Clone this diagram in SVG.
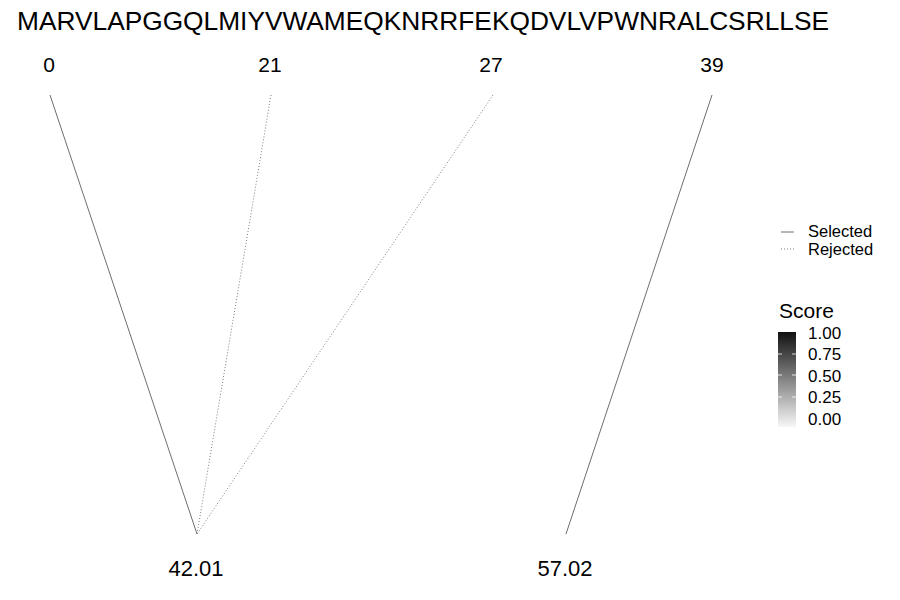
<svg xmlns="http://www.w3.org/2000/svg" width="900" height="600" viewBox="0 0 900 600">
<defs>
<style>
text{font-family:"Liberation Sans",Arial,sans-serif;fill:#000}
.lbl{font-size:21px;text-anchor:middle}
.lblb{font-size:22px;text-anchor:middle}
.sel{stroke:#6e6e6e;stroke-width:1;fill:none}
.rej{stroke:#808080;stroke-width:1;fill:none;stroke-dasharray:1 2}
.leg{font-size:16.5px}
.tick{font-size:17px}
</style>
<linearGradient id="g" x1="0" y1="1" x2="0" y2="0">
<stop offset="0" stop-color="#f7f7f7"/>
<stop offset="1" stop-color="#111"/>
</linearGradient>
</defs>
<rect width="900" height="600" fill="#fff"/>
<text x="17" y="30" font-size="26.3">MARVLAPGGQLMIYVWAMEQKNRRFEKQDVLVPWNRALCSRLLSE</text>
<g id="connectors">
<line class="sel" x1="50" y1="95" x2="197" y2="534"/>
<line class="rej" x1="271" y1="95" x2="197" y2="534"/>
<line class="rej" x1="493" y1="95" x2="197" y2="534"/>
<line class="sel" x1="712" y1="95" x2="566" y2="534"/>
</g>
<g id="n0"><text class="lbl" x="49" y="72">0</text></g>
<g id="n21"><text class="lbl" x="270" y="72">21</text></g>
<g id="n27"><text class="lbl" x="491" y="72">27</text></g>
<g id="n39"><text class="lbl" x="712" y="72">39</text></g>
<g id="n4201"><text class="lblb" x="196" y="576">42.01</text></g>
<g id="n5702"><text class="lblb" x="565" y="576">57.02</text></g>
<g id="legend">
<line class="sel" x1="781" y1="232" x2="794" y2="232"/>
<text class="leg" x="808" y="237">Selected</text>
<line class="rej" x1="781" y1="249" x2="794" y2="249"/>
<text class="leg" x="808" y="254.5">Rejected</text>
<text x="779" y="318" font-size="21">Score</text>
<rect x="778" y="332" width="18" height="95" fill="url(#g)"/>
<g stroke="#fff" stroke-width="0.8">
<line x1="778" y1="354" x2="782" y2="354"/><line x1="792" y1="354" x2="796" y2="354"/>
<line x1="778" y1="375" x2="782" y2="375"/><line x1="792" y1="375" x2="796" y2="375"/>
<line x1="778" y1="397" x2="782" y2="397"/><line x1="792" y1="397" x2="796" y2="397"/>
</g>
<text class="tick" x="808" y="339">1.00</text>
<text class="tick" x="808" y="360">0.75</text>
<text class="tick" x="808" y="382">0.50</text>
<text class="tick" x="808" y="403">0.25</text>
<text class="tick" x="808" y="425">0.00</text>
</g>
</svg>
